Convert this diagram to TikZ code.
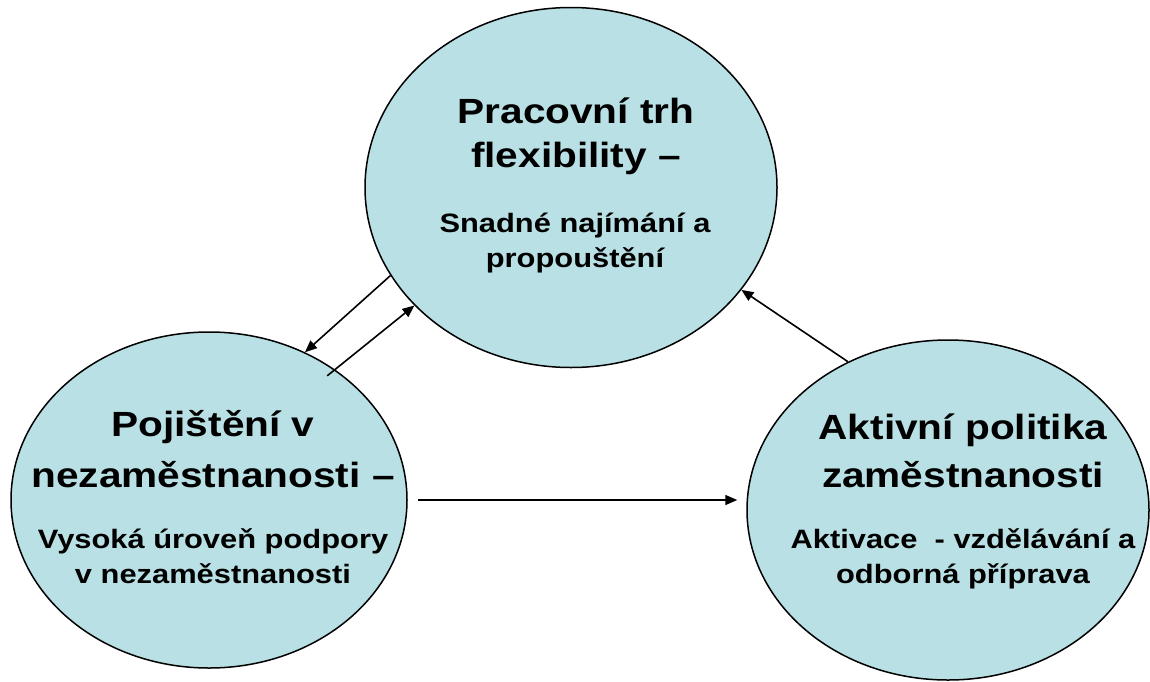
\documentclass[tikz,border=0pt]{standalone}
\usepackage{fontspec}
\setmainfont{Liberation Sans}[FakeStretch=1.16]
\usetikzlibrary{arrows.meta, shapes.geometric}
\definecolor{ovalfill}{RGB}{185,224,228}

\begin{document}
\begin{tikzpicture}[
    x=0.5pt, y=-0.5pt,
    oval/.style={ellipse, draw=black, line width=0.75pt, fill=ovalfill, inner sep=0pt},
    title/.style={font=\bfseries\fontsize{17.5}{22}\selectfont, align=center, inner sep=0pt, anchor=base},
    subtitle/.style={font=\bfseries\fontsize{13.3}{17.5}\selectfont, align=center, inner sep=0pt, anchor=base},
    arrow/.style={-{Triangle[length=6pt, width=5pt]}, line width=0.8pt}
]
\useasboundingbox (0,0) rectangle (1150,681);

% the three circles
\node[oval, minimum width=206pt, minimum height=180pt] (trh) at (571,187.5) {};
\node[oval, minimum width=198pt, minimum height=168pt] (pojisteni) at (209,500) {};
\node[oval, minimum width=201pt, minimum height=170pt] (aktivni) at (948,510) {};

% texts (base = last line)
\node[title] (trhTitle) at (576,167) {Pracovní trh\\flexibility –};
\node[subtitle] (trhText) at (575,267) {Snadné najímání a\\propouštění};
\node[title] (pojTitle) at (213,487) {Pojištění v\\[3.5pt]nezaměstnanosti –};
\node[subtitle] (pojText) at (213,583) {Vysoká úroveň podpory\\v nezaměstnanosti};
\node[title] (aktTitle) at (963,487) {Aktivní politika\\[2pt]zaměstnanosti};
\node[subtitle] (aktText) at (963,583) {Aktivace~ - vzdělávání a\\odborná příprava};

% links
\draw[arrow] (trh.206.7) -- (pojisteni.57.6);
\draw[arrow, shorten <=-5pt] (pojisteni.46.2) -- (trh.217);
\draw[arrow, shorten <=5pt, shorten >=4.5pt] (pojisteni.east) -- (pojisteni.east -| aktivni.west);
\draw[arrow] (aktivni.124.2) -- (trh.329.9);
\end{tikzpicture}
\end{document}
